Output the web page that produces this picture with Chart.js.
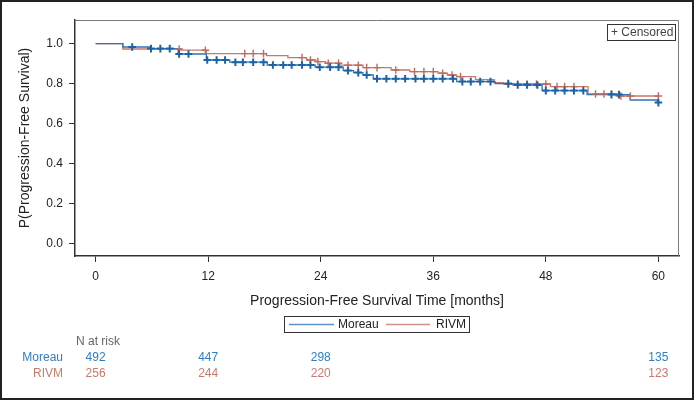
<!DOCTYPE html>
<html>
<head>
<meta charset="utf-8">
<script src="https://cdn.jsdelivr.net/npm/chart.js@4.4.0/dist/chart.umd.min.js"></script>
<style>
  html, body { margin: 0; padding: 0; background: #fff; }
  #wrap { width: 694px; height: 400px; position: relative; }
</style>
</head>
<body>
<div id="wrap"><canvas id="km"></canvas></div>
<script>
var xTicks = [0, 12, 24, 36, 48, 60];
var yTicks = [0, 0.2, 0.4, 0.6, 0.8, 1.0];

// Kaplan-Meier steps (time in months, survival after the drop)
var moreauTimes = [0, 2.9, 5.8, 8.8, 11.8, 14.3, 18.3, 23.4, 26.4, 27.5, 28.5, 29.6, 38.5, 42.6, 44.5, 47.6, 52.4, 57.0, 59.9];
var moreauSurv  = [1.0, 0.983, 0.975, 0.948, 0.918, 0.907, 0.893, 0.882, 0.865, 0.855, 0.843, 0.824, 0.81, 0.80, 0.793, 0.765, 0.745, 0.718, 0.705];
var moreauCensor = [3.9, 5.9, 6.9, 7.9, 8.9, 9.9, 11.9, 12.9, 13.8, 14.9, 15.7, 16.8, 17.9, 18.9, 20, 20.9, 22, 22.9, 23.9, 25, 25.9, 26.9, 28, 28.9, 30, 31, 32, 33, 34.1, 35, 36, 37, 38.1, 39.1, 40, 41, 42.1, 44, 45, 46, 47.1, 48, 49, 50, 51, 52, 55, 55.8, 60];

var rivmTimes = [0, 2.9, 9.1, 11.8, 18.2, 20.5, 22.5, 23.5, 24.5, 26.0, 28.5, 31.5, 33.5, 36.5, 37.5, 38.5, 40.5, 42.5, 43.5, 48.5, 52.5, 55.5];
var rivmSurv  = [1.0, 0.973, 0.967, 0.95, 0.94, 0.93, 0.918, 0.91, 0.902, 0.892, 0.88, 0.868, 0.86, 0.852, 0.843, 0.835, 0.82, 0.805, 0.798, 0.785, 0.748, 0.738];
var rivmCensor = [8.9, 11.7, 15.9, 16.8, 17.9, 22, 22.9, 23.7, 24.8, 25.9, 26.9, 28, 28.9, 30, 32, 34, 35, 36, 37, 38, 38.9, 44, 45, 46, 47, 48, 49.2, 50, 51, 53.3, 54.2, 55, 56, 57, 60];

var riskTimes = [0, 12, 24, 60];
var moreauRisk = [492, 447, 298, 135];
var rivmRisk = [256, 244, 220, 123];

var FONT = 'Arial, "Liberation Sans", sans-serif';
var BLUE = '#2f74b5', BLUE_MARK = '#1c62a6', BLUE_TXT = '#2f7fc0';
var RED = '#c8776d', RED_MARK = '#bd6b61', RED_TXT = '#c77b70';

function stepPoints(times, surv, end) {
    var pts = times.map(function (t, i) { return { x: t, y: surv[i] }; });
    pts.push({ x: end, y: surv[surv.length - 1] });
    return pts;
}

function survAt(times, surv, t) {
    var s = surv[0];
    for (var i = 0; i < times.length; i++) {
        if (times[i] <= t) s = surv[i];
    }
    return s;
}

function censorPoints(times, surv, cens) {
    return cens.map(function (t) { return { x: t, y: survAt(times, surv, t) }; });
}

var extras = {
    id: 'extras',
    afterDraw: function (chart) {
        var ctx = chart.ctx, a = chart.chartArea, xs = chart.scales.x;
        ctx.save();

        // top and right edges of the plot box
        ctx.strokeStyle = '#7a7a7a';
        ctx.lineWidth = 1;
        ctx.beginPath();
        ctx.moveTo(a.left, a.top + 0.5);
        ctx.lineTo(a.right - 0.5, a.top + 0.5);
        ctx.lineTo(a.right - 0.5, a.bottom);
        ctx.stroke();

        // censored key
        ctx.strokeStyle = '#333';
        ctx.strokeRect(607.5, 24.5, 68, 16);
        ctx.font = '12px ' + FONT;
        ctx.fillStyle = '#444';
        ctx.textAlign = 'left';
        ctx.textBaseline = 'middle';
        ctx.fillText('+ Censored', 611, 33);

        // series legend
        ctx.strokeStyle = '#333';
        ctx.strokeRect(284.5, 316.5, 185, 16);
        ctx.lineWidth = 1.5;
        ctx.strokeStyle = '#5b93c8';
        ctx.beginPath(); ctx.moveTo(289, 324.5); ctx.lineTo(334, 324.5); ctx.stroke();
        ctx.strokeStyle = '#d09088';
        ctx.beginPath(); ctx.moveTo(386, 324.5); ctx.lineTo(430, 324.5); ctx.stroke();
        ctx.fillStyle = '#222';
        ctx.fillText('Moreau', 338, 325);
        ctx.fillText('RIVM', 436, 325);

        // numbers at risk
        ctx.fillStyle = '#666';
        ctx.fillText('N at risk', 76, 342);
        ctx.textAlign = 'right';
        ctx.fillStyle = BLUE_TXT;
        ctx.fillText('Moreau', 63, 358);
        ctx.fillStyle = RED_TXT;
        ctx.fillText('RIVM', 63, 374);
        ctx.textAlign = 'center';
        riskTimes.forEach(function (t, i) {
            var px = xs.getPixelForValue(t);
            ctx.fillStyle = BLUE_TXT;
            ctx.fillText(String(moreauRisk[i]), px, 358);
            ctx.fillStyle = RED_TXT;
            ctx.fillText(String(rivmRisk[i]), px, 374);
        });

        // outer frame
        ctx.strokeStyle = '#222';
        ctx.lineWidth = 2;
        ctx.strokeRect(1, 1, 692, 398);
        ctx.restore();
    }
};

var ctx = document.getElementById('km').getContext('2d');
var chart = new Chart(ctx, {
    type: 'line',
    data: {
        datasets: [
            {
                type: 'scatter',
                data: censorPoints(moreauTimes, moreauSurv, moreauCensor),
                pointStyle: 'cross',
                pointRadius: 3.8,
                borderColor: BLUE_MARK,
                pointBorderWidth: 2,
                showLine: false
            },
            {
                type: 'scatter',
                data: censorPoints(rivmTimes, rivmSurv, rivmCensor),
                pointStyle: 'cross',
                pointRadius: 3.8,
                borderColor: RED_MARK,
                pointBorderWidth: 1.4,
                showLine: false
            },
            {
                label: 'Moreau',
                data: stepPoints(moreauTimes, moreauSurv, 60),
                stepped: true,
                borderColor: BLUE,
                borderWidth: 1.3,
                pointRadius: 0,
                fill: false
            },
            {
                label: 'RIVM',
                data: stepPoints(rivmTimes, rivmSurv, 60),
                stepped: true,
                borderColor: RED,
                borderWidth: 1.3,
                pointRadius: 0,
                fill: false
            }
        ]
    },
    options: {
        responsive: true,
        maintainAspectRatio: false,
        animation: false,
        layout: { padding: { left: 0, right: 15, top: 20, bottom: 90 } },
        plugins: {
            legend: { display: false },
            tooltip: { enabled: false }
        },
        scales: {
            x: {
                type: 'linear',
                min: -2.2,
                max: 62.2,
                afterBuildTicks: function (scale) {
                    scale.ticks = xTicks.map(function (v) { return { value: v }; });
                },
                afterFit: function (scale) { scale.height = 54; },
                grid: { display: true, drawOnChartArea: false, drawTicks: true, tickLength: 6, color: '#333' },
                border: { display: true, color: '#333', width: 1.5 },
                ticks: { color: '#222', font: { family: FONT, size: 12 }, padding: 7, maxRotation: 0 },
                title: {
                    display: true,
                    text: 'Progression-Free Survival Time [months]',
                    color: '#222',
                    font: { family: FONT, size: 14 },
                    padding: 0
                }
            },
            y: {
                type: 'linear',
                min: -0.062,
                max: 1.118,
                afterBuildTicks: function (scale) {
                    scale.ticks = yTicks.map(function (v) { return { value: v }; });
                },
                afterFit: function (scale) { scale.width = 75; },
                grid: { display: true, drawOnChartArea: false, drawTicks: true, tickLength: 6, color: '#333' },
                border: { display: true, color: '#333', width: 1.5 },
                ticks: {
                    color: '#222',
                    font: { family: FONT, size: 12 },
                    padding: 6,
                    callback: function (v) { return Number(v).toFixed(1); }
                },
                title: {
                    display: true,
                    text: 'P(Progression-Free Survival)',
                    color: '#222',
                    font: { family: FONT, size: 14 },
                    padding: { top: 17, bottom: 0 }
                }
            }
        }
    },
    plugins: [extras]
});
</script>
</body>
</html>
